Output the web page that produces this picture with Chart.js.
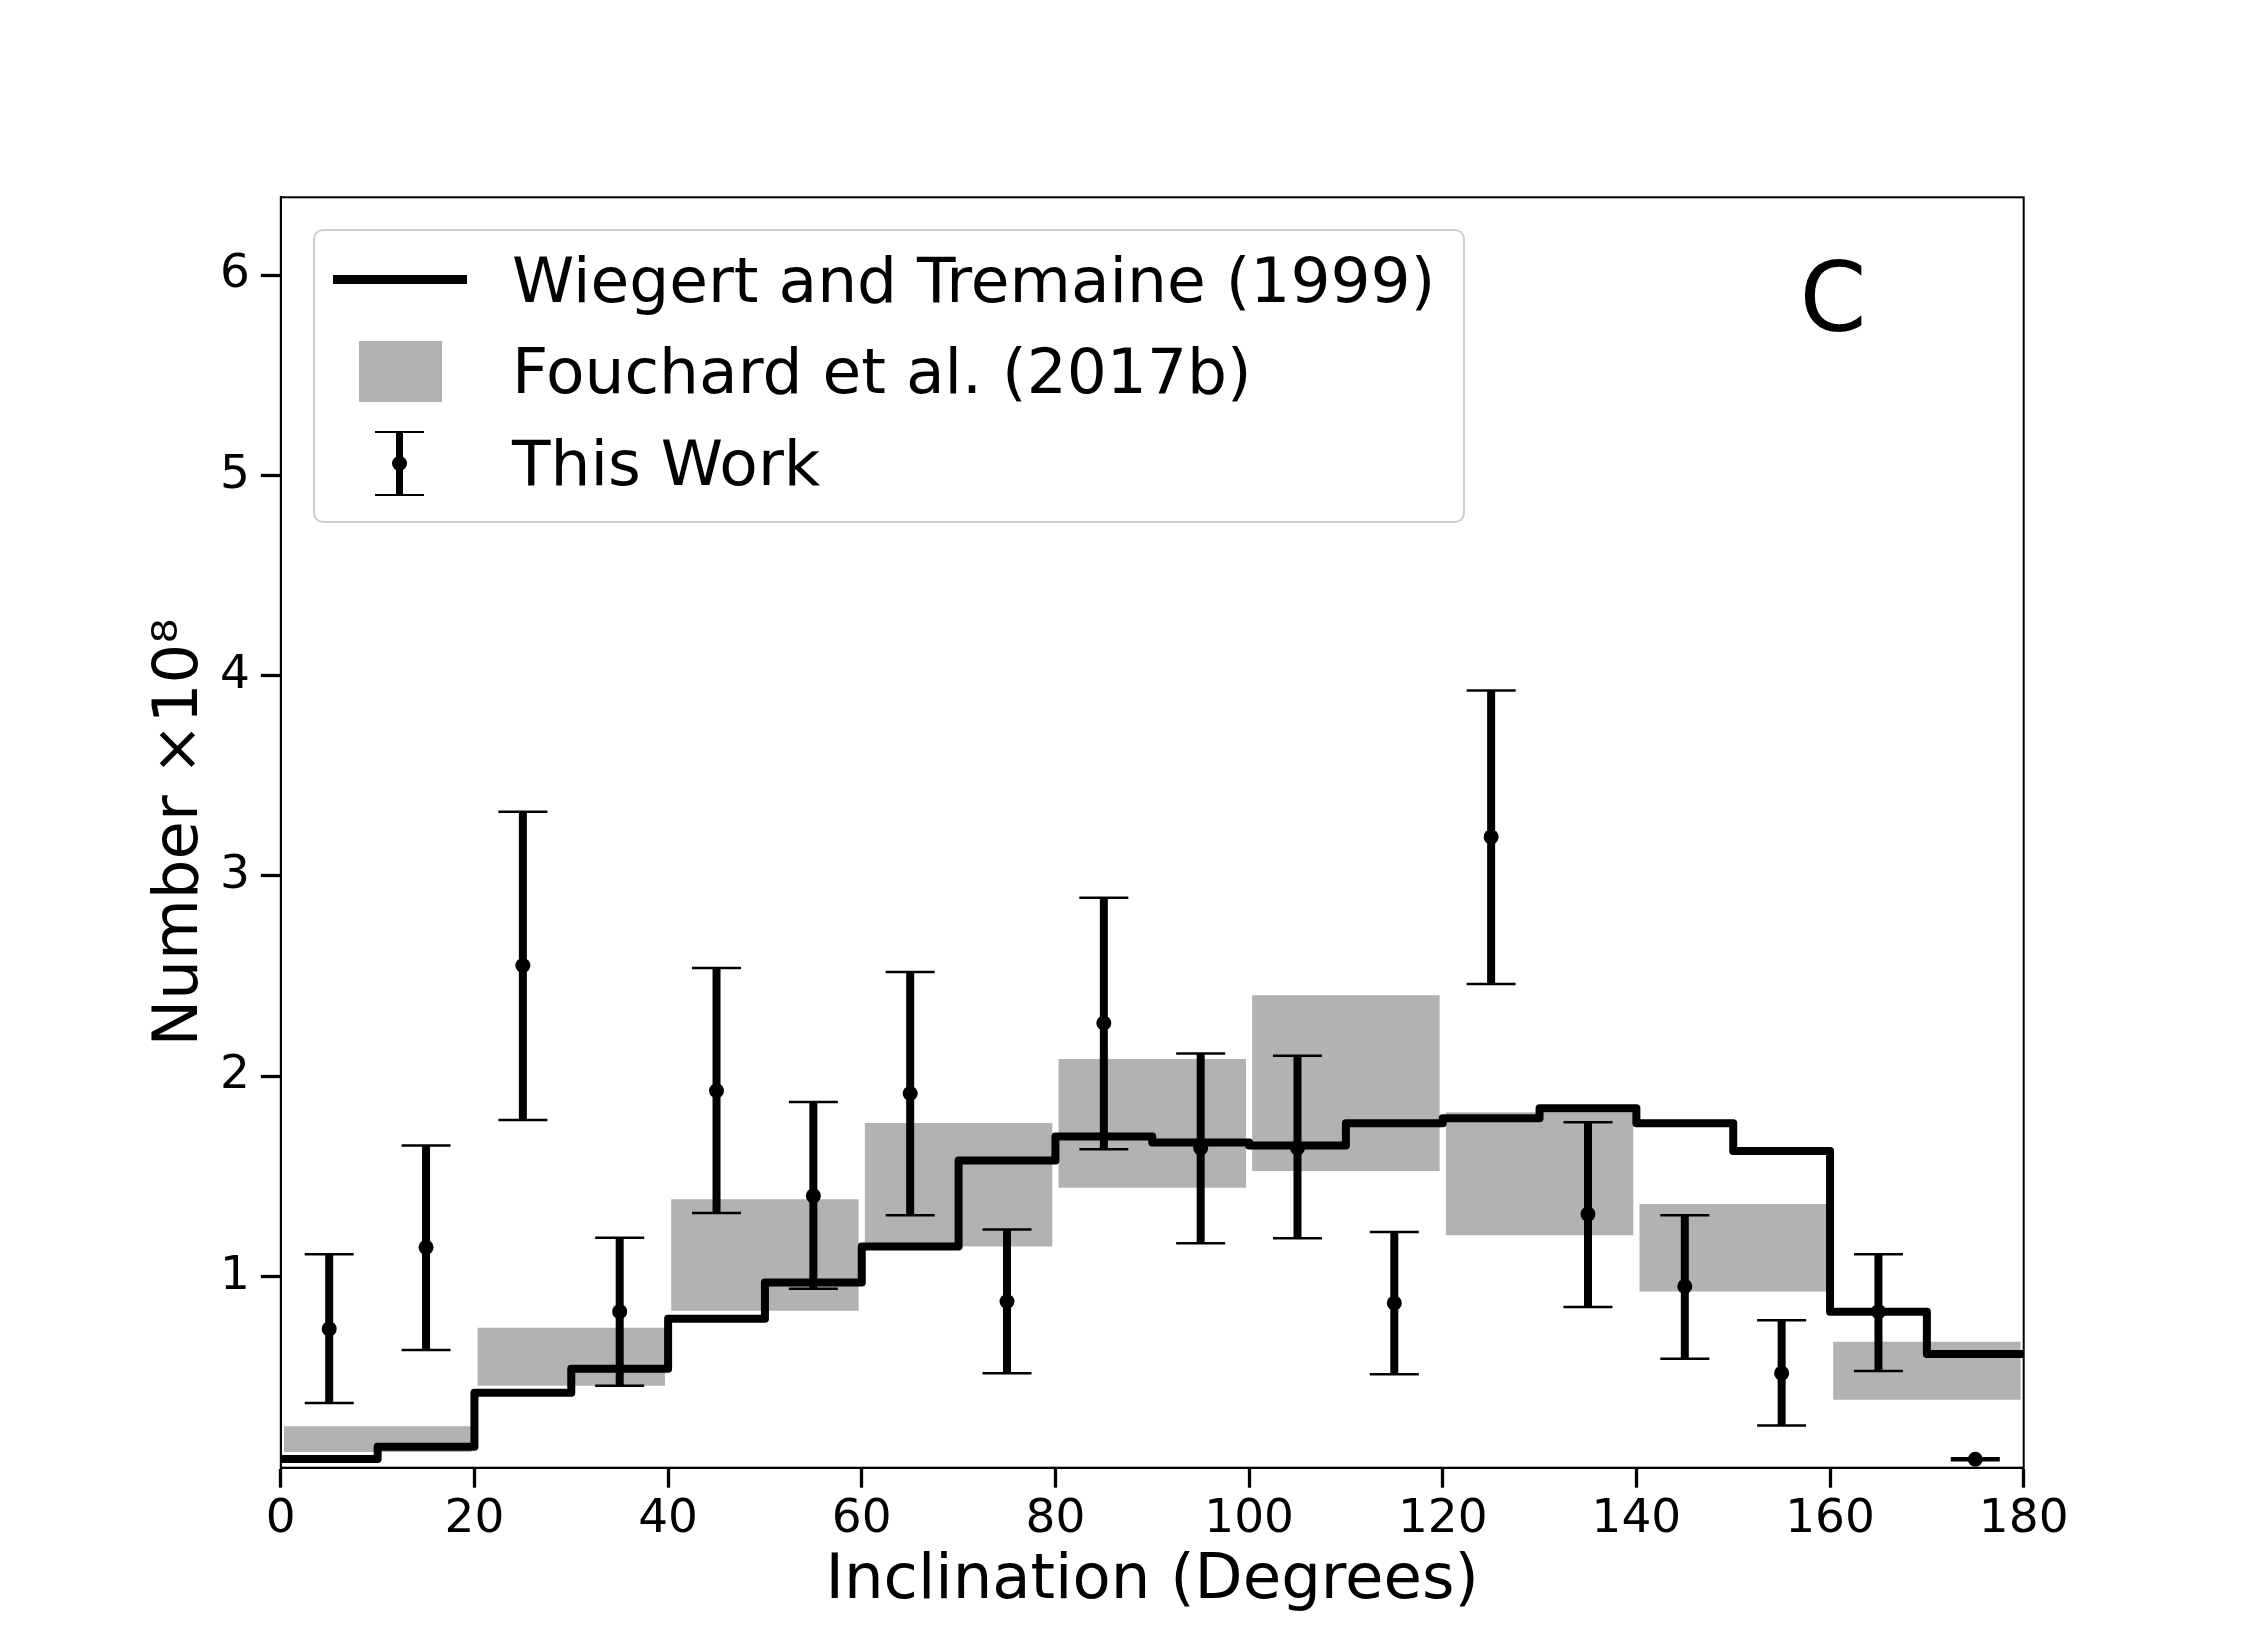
<!DOCTYPE html>
<html>
<head>
<meta charset="utf-8">
<script src="https://cdn.jsdelivr.net/npm/chart.js@4.4.1/dist/chart.umd.min.js"></script>
<style>
  body { margin: 0; background: #fff; }
  #wrap { position: relative; width: 2250px; height: 1650px; background: #fff; font-family: "DejaVu Sans", sans-serif; color: #000; }
  #chart { position: absolute; left: 0; top: 0; }
  .legend { position: absolute; left: 313px; top: 229px; width: 1152px; height: 294px; box-sizing: border-box;
            border: 2.5px solid #cccccc; border-radius: 10px; background: rgba(255,255,255,0.8); }
  .txt { position: absolute; font-size: 63px; line-height: 63px; white-space: nowrap; }
  .h { position: absolute; background: #000; }
  .panel { position: absolute; left: 1733px; top: 249.6px; width: 200px; text-align: center; font-size: 96px; line-height: 96px; }
</style>
</head>
<body>
<div id="wrap">
  <canvas id="chart" width="2250" height="1650"></canvas>

  <!-- legend, laid out like the matplotlib one -->
  <div class="legend"></div>
  <div class="h" style="left:333px; top:274.5px; width:134px; height:9px;"></div>
  <div class="h" style="left:359px; top:340.7px; width:82.5px; height:61.6px; background:#b2b2b2;"></div>
  <div class="h" style="left:395.75px; top:431.7px; width:7.5px; height:63px;"></div>
  <div class="h" style="left:375px; top:430.5px; width:49px; height:2.5px;"></div>
  <div class="h" style="left:375px; top:493.5px; width:49px; height:2.5px;"></div>
  <div class="h" style="left:392px; top:455.7px; width:15px; height:15px; border-radius:50%;"></div>
  <div class="txt" style="left:512px; top:248.5px;">Wiegert and Tremaine (1999)</div>
  <div class="txt" style="left:512px; top:340.1px;">Fouchard et al. (2017b)</div>
  <div class="txt" style="left:512px; top:431.8px;">This Work</div>

  <div class="panel">C</div>
</div>

<script>
// --- Data (Number x 10^8 per inclination bin) ---
const wiegertEdges = [0, 10, 20, 30, 40, 50, 60, 70, 80, 90, 100, 110, 120, 130, 140, 150, 160, 170, 180];
const wiegertValues = [0.09, 0.15, 0.42, 0.54, 0.79, 0.97, 1.15, 1.58, 1.70, 1.67, 1.655, 1.765, 1.79, 1.84, 1.765, 1.627, 0.825, 0.614];

const fouchardCenters = [10, 30, 50, 70, 90, 110, 130, 150, 170];
const fouchardLow  = [0.125, 0.455, 0.83, 1.15, 1.444, 1.527, 1.206, 0.925, 0.385];
const fouchardHigh = [0.253, 0.745, 1.386, 1.767, 2.086, 2.404, 1.82, 1.363, 0.675];

const workCenters = [5, 15, 25, 35, 45, 55, 65, 75, 85, 95, 105, 115, 125, 135, 145, 155, 165, 175];
const workValues = [0.739, 1.146, 2.553, 0.825, 1.928, 1.403, 1.914, 0.876, 2.266, 1.642, 1.642, 0.868, 3.195, 1.312, 0.951, 0.518, 0.825, 0.088];
const workUpper  = [1.111, 1.655, 3.321, 1.194, 2.541, 1.871, 2.521, 1.235, 2.891, 2.114, 2.103, 1.223, 3.926, 1.770, 1.306, 0.782, 1.111, 0.093];
const workLower  = [0.369, 0.633, 1.782, 0.455, 1.317, 0.939, 1.306, 0.518, 1.636, 1.166, 1.191, 0.512, 2.461, 0.848, 0.590, 0.257, 0.529, 0.083];

const xTicks = [0, 20, 40, 60, 80, 100, 120, 140, 160, 180];
const yTicks = [1, 2, 3, 4, 5, 6];

// --- Build datasets ---
const stepPoints = wiegertEdges.map((e, i) => ({ x: e, y: wiegertValues[Math.min(i, wiegertValues.length - 1)] }));
const boxPoints = fouchardCenters.map((x, i) => ({ x, y: [fouchardLow[i], fouchardHigh[i]] }));
// null after each bar breaks the line, so every bin gets its own stem
const stemPoints = workCenters.flatMap((x, i) => [{ x, y: workLower[i] }, { x, y: workUpper[i] }, { x, y: null }]);
const capPoints = workCenters.flatMap((x, i) => [{ x, y: workLower[i] }, { x, y: workUpper[i] }]);
const dotPoints = workCenters.map((x, i) => ({ x, y: workValues[i] }));

// --- Frame on top and right like matplotlib spines ---
const framePlugin = {
  id: "frame",
  afterDraw(chart) {
    const { ctx, chartArea: a } = chart;
    ctx.save();
    ctx.strokeStyle = "#000";
    ctx.lineWidth = 2;
    ctx.strokeRect(a.left, a.top, a.right - a.left, a.bottom - a.top);
    ctx.restore();
  }
};

Chart.defaults.font.family = "'DejaVu Sans', sans-serif";
Chart.defaults.color = "#000";

const tickGrid = { drawOnChartArea: false, drawTicks: true, tickLength: 20, tickWidth: 3.3, tickColor: "#000", offset: false };

new Chart(document.getElementById("chart"), {
  type: "bar",
  data: {
    datasets: [
      {
        label: "Fouchard et al. (2017b)",
        data: boxPoints,
        backgroundColor: "#b2b2b2",
        borderWidth: 0,
        categoryPercentage: 1,
        barPercentage: 0.968,
        order: 5
      },
      {
        type: "line",
        label: "Wiegert and Tremaine (1999)",
        data: stepPoints,
        stepped: "before",
        borderColor: "#000",
        borderWidth: 8,
        borderJoinStyle: "round",
        pointRadius: 0,
        fill: false,
        order: 4
      },
      {
        type: "line",
        label: "stems",
        data: stemPoints,
        borderColor: "#000",
        borderWidth: 8,
        borderCapStyle: "butt",
        pointRadius: 0,
        spanGaps: false,
        fill: false,
        order: 3
      },
      {
        type: "line",
        label: "caps",
        data: capPoints,
        showLine: false,
        pointStyle: "line",
        pointRadius: 24.5,
        pointBorderWidth: 2.5,
        pointBorderColor: "#000",
        order: 2
      },
      {
        type: "line",
        label: "This Work",
        data: dotPoints,
        showLine: false,
        pointStyle: "circle",
        pointRadius: 7.5,
        pointBorderWidth: 0,
        pointBackgroundColor: "#000",
        order: 1
      }
    ]
  },
  options: {
    responsive: false,
    animation: false,
    events: [],
    layout: { padding: { left: 0, top: 197.3, right: 226.3, bottom: 0 } },
    plugins: { legend: { display: false }, tooltip: { enabled: false } },
    scales: {
      x: {
        type: "linear",
        min: 0,
        max: 180,
        offset: false,
        afterBuildTicks: s => { s.ticks = xTicks.map(v => ({ value: v })); },
        afterFit: s => { s.height = 182.3; },
        ticks: { font: { size: 47 }, padding: 4, maxRotation: 0, callback: v => String(v) },
        grid: tickGrid,
        border: { display: true, color: "#000", width: 2 },
        title: { display: true, text: "Inclination (Degrees)", font: { size: 62.5 }, padding: { top: 0, bottom: 31 } }
      },
      y: {
        type: "linear",
        min: 0.046,
        max: 6.388,
        afterBuildTicks: s => { s.ticks = yTicks.map(v => ({ value: v })); },
        afterFit: s => { s.width = 280.8; },
        ticks: { font: { size: 47 }, padding: 11, callback: v => String(v) },
        grid: tickGrid,
        border: { display: true, color: "#000", width: 2 },
        title: { display: true, text: "Number ×10⁸", font: { size: 62.5 }, padding: { top: 143, bottom: 0 } }
      }
    }
  },
  plugins: [framePlugin]
});
</script>
</body>
</html>
